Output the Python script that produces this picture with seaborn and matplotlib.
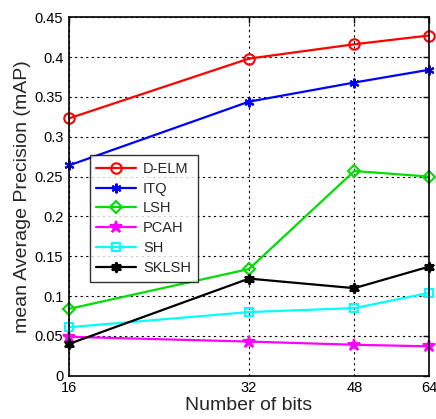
import numpy as np
import pandas as pd
import matplotlib
matplotlib.use("Agg")
import matplotlib.pyplot as plt
import seaborn as sns
from matplotlib.ticker import FixedLocator, FixedFormatter, NullLocator

# data
bits = [16, 32, 48, 64]
delm = [0.323, 0.398, 0.416, 0.427]
itq = [0.264, 0.344, 0.368, 0.384]
lsh = [0.084, 0.134, 0.257, 0.250]
pcah = [0.049, 0.043, 0.039, 0.037]
sh = [0.061, 0.080, 0.085, 0.104]
sklsh = [0.040, 0.122, 0.110, 0.137]

methods = ["D-ELM", "ITQ", "LSH", "PCAH", "SH", "SKLSH"]
values = [delm, itq, lsh, pcah, sh, sklsh]
colors = ["#ff0000", "#0000ff", "#00dd00", "#ff00ff", "#00ffff", "#000000"]
markers = ["o", (6, 2, 0), "D", "*", "s", (6, 1, 0)]
filled = [False, True, False, True, False, True]
msizes = [7.5, 7, 6, 9, 6, 7.5]

sns.set_style("white")
plt.rcParams["font.family"] = ["Liberation Sans", "DejaVu Sans"]

fig = plt.figure(figsize=(4.36, 4.19), dpi=100)
ax = fig.add_axes([0.158, 0.103, 0.826, 0.856])

for name, vals, c, m, f, ms in zip(methods, values, colors, markers, filled, msizes):
    df = pd.DataFrame({"bits": bits, "map": vals})
    sns.lineplot(data=df, x="bits", y="map", ax=ax, color=c, marker=m,
                 markersize=ms, markerfacecolor=c if f else "none",
                 markeredgecolor=c, markeredgewidth=1.5, linewidth=1.6,
                 label=name, clip_on=False)

ax.set_xscale("log", base=2)
ax.set_xlim(16, 64)
ax.set_ylim(0, 0.45)
ax.xaxis.set_major_locator(FixedLocator(bits))
ax.xaxis.set_major_formatter(FixedFormatter([str(b) for b in bits]))
ax.xaxis.set_minor_locator(NullLocator())
yt = np.round(np.arange(0, 0.451, 0.05), 2)
ax.set_yticks(yt)
ax.set_yticklabels([("%g" % v) for v in yt])

ax.grid(True, color="black", linestyle=(0, (2, 3)), linewidth=0.8)
for s in ax.spines.values():
    s.set_color("black")
    s.set_linewidth(1.2)
ax.tick_params(direction="in", length=4, width=1, labelsize=10.5,
               top=True, right=True, colors="black", pad=4)

ax.set_xlabel("Number of bits", fontsize=14, labelpad=1)
ax.set_ylabel("mean Average Precision (mAP)", fontsize=14, labelpad=3)

leg = ax.legend(loc="upper left", bbox_to_anchor=(0.058, 0.615), fontsize=10.5,
                frameon=True, fancybox=False, edgecolor="black",
                handlelength=2.7, borderpad=0.45, labelspacing=0.4,
                handletextpad=0.5, borderaxespad=0)
leg.get_frame().set_linewidth(1.0)

fig.savefig("out.png", dpi=100)
